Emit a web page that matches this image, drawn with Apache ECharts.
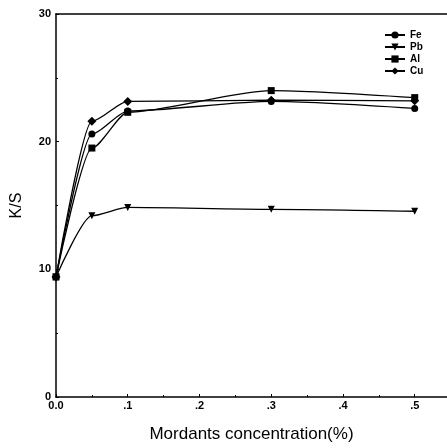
<!DOCTYPE html>
<html><head><meta charset="utf-8">
<script src="https://cdn.jsdelivr.net/npm/echarts@6/dist/echarts.min.js"></script>
<style>html,body{margin:0;padding:0;background:#fff}#c{width:447px;height:448px}</style>
</head><body><div id="c"></div>
<script>
const conc = [0, 0.05, 0.1, 0.3, 0.5];
const fe = [9.4, 20.6, 22.4, 23.15, 22.6];
const pb = [9.4, 14.2, 14.85, 14.7, 14.55];
const al = [9.4, 19.5, 22.3, 24.0, 23.45];
const cu = [9.4, 21.6, 23.15, 23.25, 23.2];
const names = ['Fe', 'Pb', 'Al', 'Cu'];
const symbols = ['circle', 'triangle', 'rect', 'diamond'];
const values = [fe, pb, al, cu];

const chart = echarts.init(document.getElementById('c'));
const font = 'Liberation Sans';
chart.setOption({
  animation: false,
  backgroundColor: '#fff',
  grid: {left: 56, top: 14, right: 0, bottom: 45},
  legend: {
    orient: 'vertical', left: 379, top: 25, itemWidth: 20, itemHeight: 9, itemGap: 2,
    textStyle: {fontFamily: font, fontSize: 10, fontWeight: 'bold', color: '#000'},
    data: names
  },
  xAxis: [{
    type: 'value', min: 0, max: 0.545, interval: 0.1,
    name: 'Mordants concentration(%)', nameLocation: 'middle', nameGap: 29,
    nameTextStyle: {fontFamily: font, fontSize: 17, color: '#000'},
    axisLine: {show: true, lineStyle: {color: '#000', width: 1.5}},
    axisTick: {show: true, inside: true, length: 3, lineStyle: {color: '#000'}},
    minorTick: {show: true, splitNumber: 2, length: 2, lineStyle: {color: '#000'}},
    splitLine: {show: false},
    axisLabel: {fontFamily: font, fontSize: 11, fontWeight: 'bold', color: '#000', margin: 3,
      showMaxLabel: false,
      formatter: v => v === 0 ? '0.0' : '.' + Math.round(v * 10)}
  }, {
    type: 'value', min: 0, max: 0.545, position: 'top',
    axisLine: {show: true, lineStyle: {color: '#000', width: 1.5}},
    axisTick: {show: false}, axisLabel: {show: false}, splitLine: {show: false}
  }],
  yAxis: {
    type: 'value', min: 0, max: 30, interval: 10,
    name: 'K/S', nameLocation: 'middle', nameGap: 31,
    nameTextStyle: {fontFamily: font, fontSize: 16, color: '#000'},
    axisLine: {show: true, lineStyle: {color: '#000', width: 1.5}},
    axisTick: {show: true, inside: true, length: 3, lineStyle: {color: '#000'}},
    minorTick: {show: true, splitNumber: 2, length: 2, lineStyle: {color: '#000'}},
    splitLine: {show: false},
    axisLabel: {fontFamily: font, fontSize: 11, fontWeight: 'bold', color: '#000', margin: 5}
  },
  series: names.map((n, i) => ({
    name: n, type: 'line', smooth: 0.25, smoothMonotone: 'x',
    symbol: symbols[i], symbolRotate: symbols[i] === 'triangle' ? 180 : 0,
    symbolSize: symbols[i] === 'diamond' ? 9 : 7,
    itemStyle: {color: '#000'},
    lineStyle: {color: '#000', width: 1.3},
    data: conc.map((x, j) => [x, values[i][j]])
  }))
});
</script></body></html>
